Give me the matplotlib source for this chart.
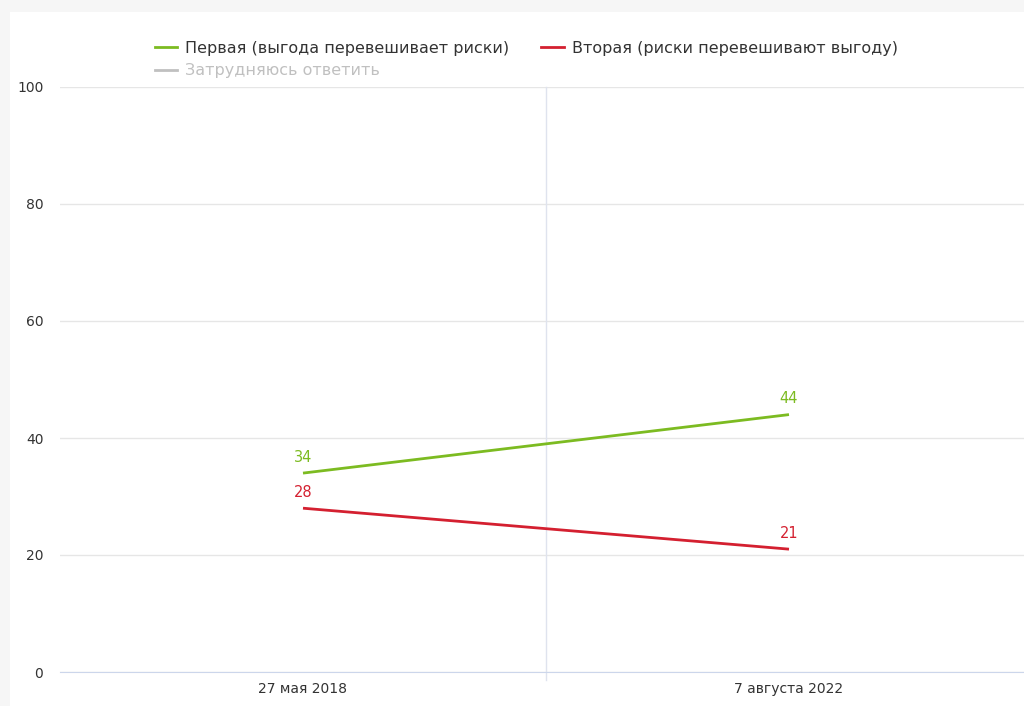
import matplotlib.pyplot as plt
from matplotlib.patches import Rectangle
from matplotlib.lines import Line2D

dates = ['27 мая 2018', '7 августа 2022']
first = [34, 44]
second = [28, 21]
series_names = ['Первая (выгода перевешивает риски)',
                'Вторая (риски перевешивают выгоду)',
                'Затрудняюсь ответить']
green = '#7cbb21'
red = '#d42030'
grey = '#c0c0c0'

plt.rcParams['font.family'] = ['DejaVu Sans']

fig = plt.figure(figsize=(10.24, 7.06), dpi=100)
fig.patch.set_facecolor('#f6f6f6')
# white panel
fig.patches.append(Rectangle((10 / 1024, 0), 1.0, 1 - 12 / 706,
                             transform=fig.transFigure, facecolor='white',
                             edgecolor='none', zorder=-5))

ax = fig.add_axes([60 / 1024, 34 / 706, 972 / 1024, 585 / 706])
ax.set_facecolor('none')
ax.set_xlim(-0.5, 1.5)
ax.set_ylim(0, 100)
ax.set_yticks(range(0, 101, 20))
ax.set_xticks(range(len(dates)))
ax.set_xticklabels(dates)
for s in ['top', 'right', 'left']:
    ax.spines[s].set_visible(False)
ax.spines['bottom'].set_color('#ccd6eb')
ax.tick_params(axis='both', length=0, labelsize=10, labelcolor='#333333')
ax.tick_params(axis='y', pad=12)
ax.tick_params(axis='x', pad=7)
ax.grid(axis='y', color='#e6e6e6', linewidth=1)
ax.set_axisbelow(True)
ax.axvline(0.5, ymin=-0.014, ymax=1, color='#dfe3ee', linewidth=1, clip_on=False)

x = list(range(len(dates)))
ax.plot(x, first, color=green, linewidth=2, solid_capstyle='butt')
ax.plot(x, second, color=red, linewidth=2, solid_capstyle='butt')
for xi, v in zip(x, first):
    ax.annotate(str(v), (xi, v), xytext=(0, 6), textcoords='offset points',
                ha='center', va='bottom', color=green, fontsize=10.5)
for xi, v in zip(x, second):
    ax.annotate(str(v), (xi, v), xytext=(0, 6), textcoords='offset points',
                ha='center', va='bottom', color=red, fontsize=10.5)

# legend (column-major fill: first, third | second)
handles = [Line2D([], [], color=green, linewidth=2),
           Line2D([], [], color=grey, linewidth=2),
           Line2D([], [], color=red, linewidth=2)]
labels = [series_names[0], series_names[2], series_names[1]]
leg = fig.legend(handles, labels, loc='upper left',
                 bbox_to_anchor=(147 / 1024, 1 - 33 / 706), ncol=2,
                 frameon=False, fontsize=11.5, handlelength=1.4,
                 handletextpad=0.5, columnspacing=2.0, labelspacing=0.45,
                 borderpad=0)
for t, c in zip(leg.get_texts(), ['#333333', grey, '#333333']):
    t.set_color(c)

fig.savefig('out.png', dpi=100, facecolor=fig.get_facecolor())
